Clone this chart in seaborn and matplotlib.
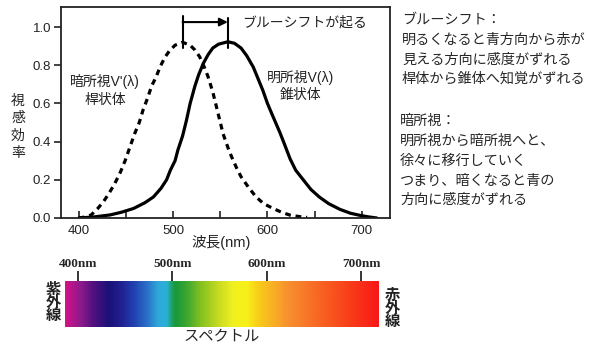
import numpy as np
import seaborn as sns
import matplotlib.pyplot as plt
from matplotlib.colors import LinearSegmentedColormap

# photopic V(lambda), solid curve
photopic_nm = [400, 415, 433, 445, 458, 470, 479, 487, 493, 497, 502, 505, 510, 514, 518,
               523, 527, 532, 537, 542, 548, 558, 565, 572, 578, 585, 590, 595, 600, 606,
               613, 617, 624, 630, 638, 646, 655, 665, 677, 688, 698, 707, 716]
photopic_val = [0.0, 0.005, 0.016, 0.03, 0.05, 0.08, 0.11, 0.155, 0.2, 0.25, 0.3, 0.356, 0.43, 0.51, 0.6,
                0.69, 0.75, 0.81, 0.855, 0.89, 0.91, 0.923, 0.915, 0.89, 0.85, 0.79, 0.73, 0.67, 0.6, 0.53,
                0.45, 0.4, 0.31, 0.25, 0.2, 0.15, 0.11, 0.075, 0.045, 0.025, 0.014, 0.006, 0.0]

# scotopic V'(lambda), dashed curve
scotopic_nm = [400, 406, 413, 420, 426, 432, 438, 444, 449, 454, 459, 464, 468, 473, 477,
               482, 486, 491, 496, 502, 510, 518, 523, 528, 533, 537, 542, 546, 550, 553,
               558, 562, 567, 572, 580, 588, 596, 606, 615, 624, 633, 642]
scotopic_val = [0.0, 0.005, 0.016, 0.05, 0.085, 0.13, 0.18, 0.24, 0.3, 0.37, 0.44, 0.5, 0.565, 0.63, 0.69,
                0.74, 0.79, 0.84, 0.875, 0.905, 0.92, 0.905, 0.88, 0.845, 0.79, 0.74, 0.66, 0.58, 0.5, 0.44,
                0.37, 0.32, 0.265, 0.216, 0.16, 0.11, 0.075, 0.05, 0.03, 0.015, 0.008, 0.003]

x_ticks = [400, 500, 600, 700]
x_minor = [450, 550, 650]
y_ticks = [0.0, 0.2, 0.4, 0.6, 0.8, 1.0]
shift_from, shift_to = 510, 558

# spectrum bar
spectrum_ticks = [400, 500, 600, 700]
spectrum_labels = ["400nm", "500nm", "600nm", "700nm"]
spectrum_nm = [386, 402, 416, 431, 445, 458, 473, 484, 494, 499, 503, 516, 529, 547,
               564, 579, 590, 623, 665, 700, 719]
spectrum_colors = ["#d4128a", "#8a1a8a", "#501080", "#1c1078", "#202090", "#2040b0",
                   "#2a70c8", "#30a8d8", "#28b0d8", "#20a060", "#189838", "#40a830",
                   "#80c020", "#c0d820", "#f0f020", "#f8f018", "#f8d018", "#f89030",
                   "#f85a20", "#f83018", "#f81818"]

note_blueshift = ["ブルーシフト：", "明るくなると青方向から赤が", "見える方向に感度がずれる",
                  "桿体から錐体へ知覚がずれる"]
note_scotopic = ["暗所視：", "明所視から暗所視へと、", "徐々に移行していく",
                 "つまり、暗くなると青の", "方向に感度がずれる"]

sns.set_style("ticks")
plt.rcParams['font.family'] = ['Liberation Sans', 'Noto Sans CJK JP']

W, H = 600, 354
fig = plt.figure(figsize=(6, 3.54), dpi=100)


def px(x, y):
    return x / W, 1 - y / H


ax = fig.add_axes([61 / W, 1 - 218 / H, 329 / W, 211 / H])
sns.lineplot(x=photopic_nm, y=photopic_val, ax=ax, color='black', lw=2.3)
sns.lineplot(x=scotopic_nm, y=scotopic_val, ax=ax, color='black', lw=2.3,
             linestyle=(0, (1.8, 1.5)))
ax.set_xlim(381, 730)
ax.set_ylim(0, 1.105)
ax.set_xticks(x_ticks)
ax.set_xticks(x_minor, minor=True)
ax.set_yticks(y_ticks)
ax.tick_params(axis='x', which='both', direction='in', length=5, width=1.2,
               labelsize=9.5, pad=5, colors='#222')
ax.tick_params(axis='y', direction='out', length=5, width=1.2, labelsize=9.5, pad=2,
               colors='#222')
ax.set_xlabel('')
ax.set_ylabel('')
for s in ax.spines.values():
    s.set_visible(True)
    s.set_linewidth(1.3)
    s.set_color('#222')

# curve labels
ax.text(428, 0.717, "暗所視V'(λ)", ha='center', va='center', fontsize=10, color='#222')
ax.text(428, 0.618, "桿状体", ha='center', va='center', fontsize=10, color='#222')
ax.text(635, 0.738, "明所視V(λ)", ha='center', va='center', fontsize=10, color='#222')
ax.text(635, 0.644, "錐状体", ha='center', va='center', fontsize=10, color='#222')

# blue shift arrow
ax.plot([shift_from, shift_from], [0.89, 1.057], color='black', lw=1.5)
ax.plot([shift_to, shift_to], [0.89, 1.045], color='black', lw=1.5)
ax.annotate('', xy=(shift_to, 1.026), xytext=(shift_from, 1.026),
            arrowprops=dict(arrowstyle='-|>', color='black', lw=1.5,
                            shrinkA=0, shrinkB=0, mutation_scale=12))
ax.text(573, 1.026, "ブルーシフトが起る", ha='left', va='center', fontsize=10, color='#222')

# axis labels
fig.text(*px(221, 243), "波長(nm)", ha='center', va='center', fontsize=10.5, color='#222')
fig.text(*px(18, 127), "視\n感\n効\n率", ha='center', va='center', fontsize=10,
         linespacing=1.3, color='#222')

# notes on the right
for i, line in enumerate(note_blueshift):
    fig.text(*px(402, 20 + i * 19.7), line, ha='left', va='center', fontsize=10.2)
for i, line in enumerate(note_scotopic):
    fig.text(*px(400, 121 + i * 19.8), line, ha='left', va='center', fontsize=10.2)

# spectrum bar
lo, hi = spectrum_nm[0], spectrum_nm[-1]
cmap = LinearSegmentedColormap.from_list(
    'spec', [((n - lo) / (hi - lo), c) for n, c in zip(spectrum_nm, spectrum_colors)])
sax = fig.add_axes([65 / W, 1 - 327 / H, 314 / W, 46 / H])
sax.imshow(np.linspace(lo, hi, 500)[None, :], cmap=cmap, aspect='auto',
           extent=[lo, hi, 0, 1], vmin=lo, vmax=hi)
sax.set_xlim(lo, hi)
sax.set_ylim(0, 1)
sax.set_yticks([])
sax.xaxis.tick_top()
sax.set_xticks(spectrum_ticks, spectrum_labels)
sax.tick_params(axis='x', direction='out', length=7, width=1.3, pad=1, labelsize=9.5)
for lab in sax.get_xticklabels():
    lab.set_family('Liberation Serif')
    lab.set_weight('bold')
for s in sax.spines.values():
    s.set_visible(False)

fig.text(*px(53, 303), "紫\n外\n線", ha='center', va='center', fontsize=11,
         linespacing=0.9, weight='bold', color='#222')
fig.text(*px(392, 309), "赤\n外\n線", ha='center', va='center', fontsize=11,
         linespacing=0.9, weight='bold', color='#222')
fig.text(*px(222, 337), "スペクトル", ha='center', va='center', fontsize=11)

fig.savefig("out.png", dpi=100)
